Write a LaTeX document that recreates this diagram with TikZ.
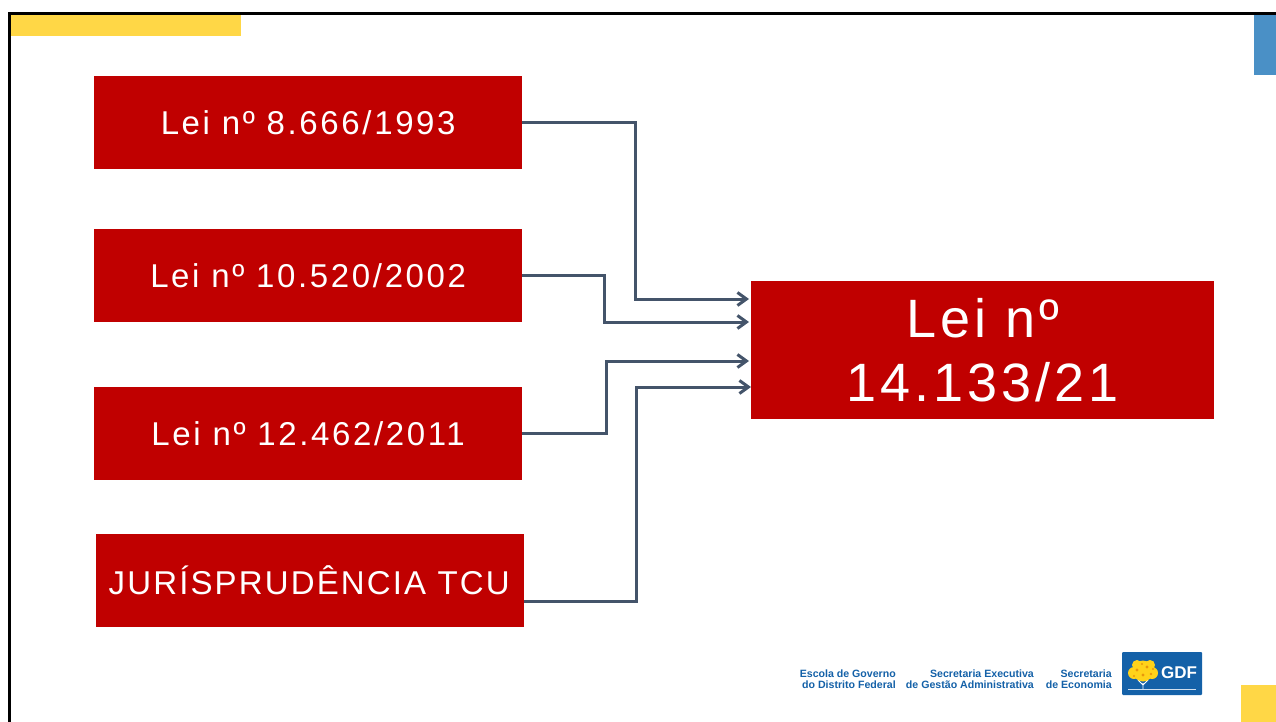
\documentclass[tikz,border=0pt]{standalone}
\usepackage{fontspec}
\usetikzlibrary{arrows.meta}
\setmainfont{Liberation Sans}
\newfontfamily\widefont[LetterSpace=6.5]{Liberation Sans}
\newfontfamily\lawfont[LetterSpace=8]{Liberation Sans}
\newfontfamily\hugefont[LetterSpace=7.5]{Liberation Sans}
\newfontfamily\logofont{Liberation Sans}[BoldFont={Liberation Sans Bold}]
\definecolor{lawred}{HTML}{C00000}
\definecolor{linkslate}{HTML}{44546A}
\definecolor{accentyellow}{HTML}{FFD746}
\definecolor{accentblue}{HTML}{4A90C6}
\definecolor{logoblue}{HTML}{1461A8}
\definecolor{crownyellow}{HTML}{FFD21A}
\definecolor{crownorange}{HTML}{E8960C}
\tikzset{
  lawbox/.style={fill=lawred,text=white,anchor=north west,inner sep=0pt,font=\lawfont\fontsize{33}{40}\selectfont,align=center},
  link/.style={draw=linkslate,line width=3pt,-{Straight Barb[length=9pt,width=13pt,line width=3pt]}},
  logotext/.style={text=logoblue,inner sep=0pt,font=\logofont\bfseries\fontsize{10.6}{11.4}\selectfont,align=right,anchor=east},
}
\begin{document}
\begin{tikzpicture}[x=1pt,y=-1pt]
\useasboundingbox (0,0) rectangle (1276,722);
\fill[white] (0,0) rectangle (1276,722);
\fill[accentyellow] (11,15) rectangle (241,36.5);
\fill[accentblue] (1254,15) rectangle (1276,75.5);
\fill[accentyellow] (1241,684.5) rectangle (1276,722);
\draw[black,line width=3pt] (9.5,722) -- (9.5,13.5) -- (1276,13.5);

\node[lawbox,minimum width=428pt,minimum height=93pt] (a) at (94,76) {Lei nº 8.666/1993};
\node[lawbox,minimum width=428pt,minimum height=93pt] (b) at (94,229) {Lei nº 10.520/2002};
\node[lawbox,minimum width=428pt,minimum height=93pt] (c) at (94,387) {Lei nº 12.462/2011};
\node[lawbox,minimum width=428pt,minimum height=93pt,font=\widefont\fontsize{33}{40}\selectfont] (d) at (96,534) {\raisebox{2pt}{JURÍSPRUDÊNCIA TCU}\hspace*{2pt}};
\node[lawbox,minimum width=463pt,minimum height=138pt,font=\hugefont\fontsize{54}{64}\selectfont] (t) at (751,281) {Lei nº\\14.133/21};

\coordinate (t1) at (749,299);
\coordinate (t2) at (749,322);
\coordinate (t3) at (749,361);
\coordinate (t4) at (751,387);
\coordinate (j1) at (635,299);
\coordinate (j2) at (604.5,322);
\coordinate (j3) at (606,361);
\coordinate (j4) at (636.5,387);
\coordinate (dout) at (524,601);
\draw[link] (a.east) -| (j1) -- (t1);
\draw[link] (b.east) -| (j2) -- (t2);
\draw[link] (c.east) -| (j3) -- (t3);
\draw[link] (dout) -| (j4) -- (t4);

\node[logotext] (l1) at (896,679.5) {Escola de Governo\\do Distrito Federal};
\node[logotext] (l2) at (1034,679.5) {Secretaria Executiva\\de Gestão Administrativa};
\node[logotext] (l3) at (1112,679.5) {Secretaria\\de Economia};
\fill[logoblue,rounded corners=1pt] (1122,652) rectangle (1202,695);
\draw[white!80!logoblue,line width=0.6pt] (1128,689) -- (1196,689);
\draw[white,line width=0.8pt] (1143,689) -- (1143,683) (1143,685) -- (1138,680) (1143,685) -- (1148,680);
\fill[crownyellow] (1143,671) circle (10.5pt) (1134,673) circle (6pt) (1152,673) circle (6pt) (1137,665) circle (5pt) (1150,665) circle (5pt);
\fill[crownorange] (1137,670) circle (1.6pt) (1147,667) circle (1.6pt) (1143,675) circle (1.6pt) (1151,674) circle (1.4pt) (1134,676) circle (1.2pt) (1142,664) circle (1.2pt) (1153,669) circle (1.2pt);
\node[text=white,inner sep=0pt,font=\logofont\bfseries\fontsize{17}{19}\selectfont] (gdf) at (1179,673) {GDF};
\end{tikzpicture}
\end{document}
